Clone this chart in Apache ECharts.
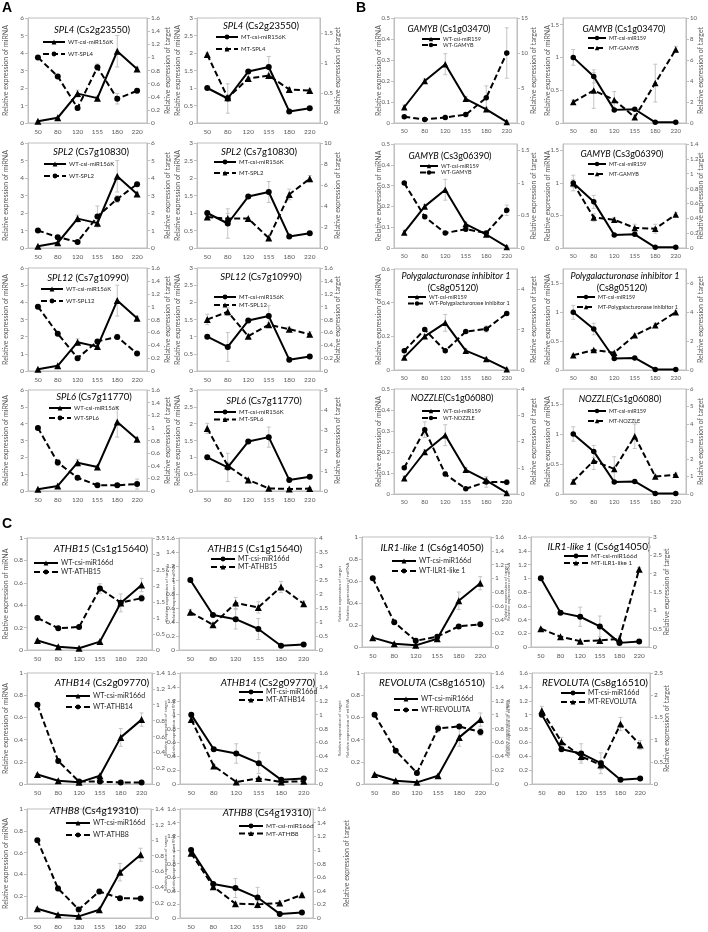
<!DOCTYPE html>
<html>
<head>
<meta charset="utf-8">
<script src="https://cdn.jsdelivr.net/npm/echarts@6/dist/echarts.min.js"></script>
<style>
html, body { margin: 0; padding: 0; background: #fff; }
#chart { width: 708px; height: 932px; }
</style>
</head>
<body>
<div id="chart"></div>
<script>
// days after flowering
const days = ['50', '80', '120', '155', '180', '220'];

// miRNA levels
const wtMiR156 = [0.1, 0.3, 1.68, 1.42, 4.1, 3.08];
const mtMiR156 = [1.0, 0.7, 1.47, 1.6, 0.33, 0.42];
const wtMiR159 = [0.075, 0.2, 0.28, 0.115, 0.065, 0.005];
const mtMiR159 = [1.0, 0.71, 0.2, 0.21, 0.01, 0.01];
const wtMiR166 = [0.085, 0.03, 0.015, 0.075, 0.42, 0.58];
const mtMiR166 = [1.0, 0.5, 0.44, 0.3, 0.06, 0.08];

// target levels
const wtSPL4 = [1.0, 0.71, 0.23, 0.85, 0.37, 0.49];
const mtSPL4 = [1.14, 0.42, 0.74, 0.79, 0.56, 0.54];
const wtSPL2 = [1.0, 0.62, 0.35, 1.8, 2.8, 3.65];
const mtSPL2 = [2.95, 2.8, 2.8, 0.95, 5.1, 6.6];
const wtSPL12 = [1.0, 0.58, 0.2, 0.46, 0.53, 0.27];
const mtSPL12 = [0.8, 0.92, 0.54, 0.72, 0.65, 0.57];
const wtSPL6 = [1.0, 0.45, 0.21, 0.09, 0.09, 0.11];
const mtSPL6 = [3.1, 1.25, 0.55, 0.13, 0.1, 0.12];
const wtGAMYB1 = [0.9, 0.5, 0.8, 1.2, 3.6, 10.0];
const mtGAMYB1 = [2.0, 3.1, 2.2, 0.55, 3.8, 7.0];
const wtGAMYB2 = [1.0, 0.48, 0.23, 0.29, 0.23, 0.58];
const mtGAMYB2 = [0.87, 0.41, 0.38, 0.27, 0.26, 0.45];
const wtPGIP = [0.95, 2.0, 0.95, 1.9, 2.03, 2.8];
const mtPGIP = [1.03, 1.38, 1.2, 2.4, 3.1, 4.0];
const wtNOZZLE = [1.0, 2.45, 0.76, 0.2, 0.46, 0.45];
const mtNOZZLE = [0.72, 1.9, 1.43, 3.3, 1.0, 1.1];
const wtATHB15 = [1.0, 0.68, 0.72, 1.92, 1.48, 1.62];
const mtATHB15 = [1.35, 0.9, 1.68, 1.52, 2.25, 1.65];
const wtILR = [1.0, 0.36, 0.09, 0.15, 0.3, 0.33];
const mtILR = [0.5, 0.28, 0.16, 0.18, 0.22, 2.12];
const wtATHB14 = [1.0, 0.29, 0.03, 0.03, 0.02, 0.02];
const mtATHB14 = [0.93, 0.26, 0.03, 0.08, 0.03, 0.04];
const wtREV = [1.0, 0.48, 0.16, 0.8, 0.83, 0.75];
const mtREV = [1.65, 0.95, 0.62, 0.43, 1.35, 0.88];
const wtATHB8 = [1.0, 0.38, 0.11, 0.34, 0.255, 0.25];
const mtATHB8 = [0.95, 0.46, 0.21, 0.2, 0.22, 0.34];

// error bars (sd)
const errWtMiR156 = [0.02, 0.05, 0.2, 0.1, 0.9, 0.1];
const errMtMiR156 = [0.03, 0.42, 0.05, 0.3, 0.03, 0.05];
const errWtMiR159 = [0.01, 0.01, 0.05, 0.01, 0.01, 0.005];
const errMtMiR159 = [0.12, 0.1, 0.02, 0.02, 0.01, 0.01];
const errWtMiR166 = [0.01, 0.01, 0.01, 0.01, 0.08, 0.06];
const errMtMiR166 = [0.02, 0.02, 0.14, 0.15, 0.02, 0.02];
const errWtSPL4 = [0, 0.02, 0.03, 0.05, 0.08, 0.03];
const errMtSPL4 = [0.03, 0.05, 0.03, 0.03, 0.03, 0.03];
const errWtSPL2 = [0.05, 0.05, 0.05, 0.6, 0.2, 0.1];
const errMtSPL2 = [0.1, 0.5, 0.1, 0.1, 0.5, 0.3];
const errWtSPL12 = [0.02, 0.03, 0.03, 0.03, 0.04, 0.02];
const errMtSPL12 = [0.08, 0.06, 0.03, 0.03, 0.03, 0.04];
const errWtSPL6 = [0.02, 0.05, 0.03, 0.02, 0.02, 0.08];
const errMtSPL6 = [0.25, 0.15, 0.05, 0.03, 0.03, 0.05];
const errWtGAMYB1 = [0.2, 0.2, 0.3, 0.3, 1.7, 3.6];
const errMtGAMYB1 = [0.2, 1.7, 0.8, 0.2, 1.8, 0.3];
const errWtGAMYB2 = [0.02, 0.03, 0.02, 0.03, 0.03, 0.08];
const errMtGAMYB2 = [0.05, 0.05, 0.03, 0.05, 0.06, 0.03];
const errWtPGIP = [0.05, 0.1, 0.05, 0.05, 0.15, 0.1];
const errMtPGIP = [0.05, 0.05, 0.05, 0.1, 0.15, 0.1];
const errWtNOZZLE = [0.05, 0.3, 0.1, 0.05, 0.2, 0.1];
const errMtNOZZLE = [0.1, 0.5, 0.7, 0.7, 0.1, 0.1];
const errWtATHB15 = [0.03, 0.03, 0.03, 0.15, 0.05, 0.1];
const errMtATHB15 = [0.1, 0.05, 0.2, 0.2, 0.2, 0.1];
const errWtILR = [0.02, 0.02, 0.03, 0.03, 0.02, 0.02];
const errMtILR = [0.02, 0.02, 0.02, 0.02, 0.08, 0.05];
const errWtATHB14 = [0.02, 0.02, 0.01, 0.01, 0.01, 0.01];
const errMtATHB14 = [0.03, 0.02, 0.01, 0.02, 0.02, 0.02];
const errWtREV = [0.02, 0.03, 0.03, 0.05, 0.03, 0.05];
const errMtREV = [0.1, 0.1, 0.1, 0.1, 0.15, 0.1];
const errWtATHB8 = [0.02, 0.03, 0.02, 0.03, 0.02, 0.02];
const errMtATHB8 = [0.03, 0.03, 0.02, 0.05, 0.03, 0.02];

const FONT = 'Lato, "Liberation Sans", sans-serif';
const GRAY = '#bfbfbf';
const TXT = '#595959';

const styles = {
	A: { title: 9.5, tick: 6.5, legend: 6, name: 7, icon: 22, sym: 6 },
	B: { title: 9, tick: 6, legend: 5.5, name: 7, icon: 18, sym: 5.5 },
	C: { title: 10, tick: 6.5, legend: 7, name: 7, icon: 24, sym: 6 }
};

// box: [left axis x, right axis x, top y, bottom y]; t: title centre; lg: [x, first row y, row pitch, font]; nm: axis name centres (+ sizes)
const panels = [
	{ st: 'A', mt: 0, gene: 'SPL4', id: ' (Cs2g23550)', mir: 'csi-miR156K', tgt: 'SPL4', a: wtMiR156, ea: errWtMiR156, b: wtSPL4, eb: errWtSPL4, y1: [6, 1], y2: [1.6, 0.2], box: [28, 147, 18, 123], t: [92, 30], lg: [42, 42, 12], nm: [6, 168] },
	{ st: 'A', mt: 1, gene: 'SPL4', id: ' (Cs2g23550)', mir: 'csi-miR156K', tgt: 'SPL4', a: mtMiR156, ea: errMtMiR156, b: mtSPL4, eb: errMtSPL4, y1: [3, 0.5], y2: [1.75, 0.5], box: [197, 320, 18, 123], t: [261, 26], lg: [215, 37, 12], nm: [178, 338] },
	{ st: 'A', mt: 0, gene: 'SPL2', id: ' (Cs7g10830)', mir: 'csi-miR156K', tgt: 'SPL2', a: wtMiR156, ea: errWtMiR156, b: wtSPL2, eb: errWtSPL2, y1: [6, 1], y2: [6, 1], box: [28, 147, 143, 248], t: [91, 152], lg: [43, 164, 12], nm: [6, 168] },
	{ st: 'A', mt: 1, gene: 'SPL2', id: ' (Cs7g10830)', mir: 'csi-miR156K', tgt: 'SPL2', a: mtMiR156, ea: errMtMiR156, b: mtSPL2, eb: errMtSPL2, y1: [3, 0.5], y2: [10, 2], box: [197, 320, 143, 248], t: [259, 152], lg: [213, 162, 11], nm: [178, 338] },
	{ st: 'A', mt: 0, gene: 'SPL12', id: ' (Cs7g10990)', mir: 'csi-miR156K', tgt: 'SPL12', a: wtMiR156, ea: errWtMiR156, b: wtSPL12, eb: errWtSPL12, y1: [6, 1], y2: [1.6, 0.2], box: [28, 147, 268, 371], t: [88, 278], lg: [40, 289, 12], nm: [6, 168] },
	{ st: 'A', mt: 1, gene: 'SPL12', id: ' (Cs7g10990)', mir: 'csi-miR156K', tgt: 'SPL12', a: mtMiR156, ea: errMtMiR156, b: mtSPL12, eb: errMtSPL12, y1: [3, 0.5], y2: [1.6, 0.2], box: [197, 320, 268, 371], t: [261, 277], lg: [213, 297, 8], nm: [178, 338] },
	{ st: 'A', mt: 0, gene: 'SPL6', id: ' (Cs7g11770)', mir: 'csi-miR156K', tgt: 'SPL6', a: wtMiR156, ea: errWtMiR156, b: wtSPL6, eb: errWtSPL6, y1: [6, 1], y2: [1.6, 0.2], box: [28, 147, 390, 491], t: [94, 397], lg: [48, 408, 10], nm: [6, 168] },
	{ st: 'A', mt: 1, gene: 'SPL6', id: ' (Cs7g11770)', mir: 'csi-miR156K', tgt: 'SPL6', a: mtMiR156, ea: errMtMiR156, b: mtSPL6, eb: errMtSPL6, y1: [3, 0.5], y2: [5, 1], box: [197, 320, 390, 491], t: [264, 401], lg: [213, 412, 7.5], nm: [178, 338] },

	{ st: 'B', mt: 0, gene: 'GAMYB', id: ' (Cs1g03470)', mir: 'csi-miR159', tgt: 'GAMYB', a: wtMiR159, ea: errWtMiR159, b: wtGAMYB1, eb: errWtGAMYB1, y1: [0.5, 0.1], y2: [15, 5], box: [394, 517, 18, 123], t: [449, 29], lg: [421, 39, 6], nm: [379, 534] },
	{ st: 'B', mt: 1, gene: 'GAMYB', id: ' (Cs1g03470)', mir: 'csi-miR159', tgt: 'GAMYB', a: mtMiR159, ea: errMtMiR159, b: mtGAMYB1, eb: errMtGAMYB1, y1: [1.6, 0.5], y2: [10, 2], box: [563, 686, 18, 123], t: [624, 29], lg: [587, 38, 10], nm: [548, 701] },
	{ st: 'B', mt: 0, gene: 'GAMYB', id: ' (Cs3g06390)', mir: 'csi-miR159', tgt: 'GAMYB', a: wtMiR159, ea: errWtMiR159, b: wtGAMYB2, eb: errWtGAMYB2, y1: [0.5, 0.1], y2: [1.6, 0.5], box: [394, 517, 144, 248], t: [450, 156], lg: [419, 166, 6.5], nm: [379, 534] },
	{ st: 'B', mt: 1, gene: 'GAMYB', id: ' (Cs3g06390)', mir: 'csi-miR159', tgt: 'GAMYB', a: mtMiR159, ea: errMtMiR159, b: mtGAMYB2, eb: errMtGAMYB2, y1: [1.6, 0.5], y2: [1.4, 0.2], box: [563, 686, 144, 248], t: [622, 154], lg: [587, 164, 10], nm: [548, 701] },
	{ st: 'B', mt: 0, gene: 'Polygalacturonase inhibitor 1', id: '(Cs8g05120)', two: true, mir: 'csi-miR159', tgt: 'Polygalacturonase inhibitor 1', a: wtMiR159, ea: errWtMiR159, b: wtPGIP, eb: errWtPGIP, y1: [0.6, 0.2], y2: [5, 2], box: [394, 517, 269, 370], t: [456, 276, 453, 288], lg: [407, 297, 6.5], nm: [379, 534] },
	{ st: 'B', mt: 1, gene: 'Polygalacturonase inhibitor 1', id: '(Cs8g05120)', two: true, mir: 'csi-miR159', tgt: 'Polygalacturonase inhibitor 1', a: mtMiR159, ea: errMtMiR159, b: mtPGIP, eb: errMtPGIP, y1: [1.75, 0.5], y2: [7, 2], box: [563, 686, 269, 370], t: [625, 276, 622, 288], lg: [576, 297, 10], nm: [548, 701] },
	{ st: 'B', mt: 0, gene: 'NOZZLE', id: '(Cs1g06080)', mir: 'csi-miR159', tgt: 'NOZZLE', a: wtMiR159, ea: errWtMiR159, b: wtNOZZLE, eb: errWtNOZZLE, y1: [0.5, 0.1], y2: [4, 1], box: [394, 517, 389, 494], t: [452, 398], lg: [421, 411, 7], nm: [379, 534] },
	{ st: 'B', mt: 1, gene: 'NOZZLE', id: '(Cs1g06080)', mir: 'csi-miR159', tgt: 'NOZZLE', a: mtMiR159, ea: errMtMiR159, b: mtNOZZLE, eb: errMtNOZZLE, y1: [1.75, 0.5], y2: [6, 1], box: [563, 686, 389, 494], t: [620, 399], lg: [587, 411, 10], nm: [548, 701] },

	{ st: 'C', mt: 0, gene: 'ATHB15', id: ' (Cs1g15640)', mir: 'csi-miR166d', tgt: 'ATHB15', a: wtMiR166, ea: errWtMiR166, b: wtATHB15, eb: errWtATHB15, y1: [1, 0.2], y2: [3.5, 0.5], box: [27, 152, 538, 650], t: [101, 549], lg: [33, 563, 9], nm: [6, 167, 7, 4.5] },
	{ st: 'C', mt: 1, gene: 'ATHB15', id: ' (Cs1g15640)', mir: 'csi-miR166d', tgt: 'ATHB15', a: mtMiR166, ea: errMtMiR166, b: mtATHB15, eb: errMtATHB15, y1: [1.6, 0.2], y2: [4, 0.5], box: [179, 315, 538, 650], t: [255, 549], lg: [210, 559, 8], nm: [174, 340, 4.5, 4.5] },
	{ st: 'C', mt: 0, gene: 'ILR1-like 1', id: ' (Cs6g14050)', mir: 'csi-miR166d', tgt: 'ILR1-like 1', a: wtMiR166, ea: errWtMiR166, b: wtILR, eb: errWtILR, y1: [1, 0.2], y2: [1.6, 0.2], box: [362, 491, 537, 647], t: [432, 548], lg: [391, 561, 10], nm: [348, 506, 4.5, 4.5] },
	{ st: 'C', mt: 1, gene: 'ILR1-like 1', id: ' (Cs6g14050)', mir: 'csi-miR166d', tgt: 'ILR1-like 1', a: mtMiR166, ea: errMtMiR166, b: mtILR, eb: errMtILR, y1: [1.6, 0.2], y2: [3, 0.5], box: [531, 649, 537, 647], t: [599, 547], lg: [563, 556, 7, 6.3], nm: [509, 667, 4.5, 7] },
	{ st: 'C', mt: 0, gene: 'ATHB14', id: ' (Cs2g09770)', mir: 'csi-miR166d', tgt: 'ATHB14', a: wtMiR166, ea: errWtMiR166, b: wtATHB14, eb: errWtATHB14, y1: [1, 0.2], y2: [1.4, 0.2], box: [27, 152, 673, 784], t: [102, 683], lg: [65, 696, 11], nm: [6, 166, 7, 4.5] },
	{ st: 'C', mt: 1, gene: 'ATHB14', id: ' (Cs2g09770)', mir: 'csi-miR166d', tgt: 'ATHB14', a: mtMiR166, ea: errMtMiR166, b: mtATHB14, eb: errMtATHB14, y1: [1.6, 0.2], y2: [1.6, 0.2], box: [180, 315, 673, 784], t: [268, 683], lg: [238, 692, 8], nm: [174, 340, 4.5, 4.5] },
	{ st: 'C', mt: 0, gene: 'REVOLUTA', id: ' (Cs8g16510)', mir: 'csi-miR166d', tgt: 'REVOLUTA', a: wtMiR166, ea: errWtMiR166, b: wtREV, eb: errWtREV, y1: [1, 0.2], y2: [1.6, 0.2], box: [364, 491, 673, 784], t: [432, 683], lg: [393, 699, 11], nm: [348, 507, 4.5, 4.5] },
	{ st: 'C', mt: 1, gene: 'REVOLUTA', id: ' (Cs8g16510)', mir: 'csi-miR166d', tgt: 'REVOLUTA', a: mtMiR166, ea: errMtMiR166, b: mtREV, eb: errMtREV, y1: [1.6, 0.2], y2: [2.5, 0.5], box: [532, 650, 673, 784], t: [595, 683], lg: [560, 693, 9], nm: [509, 667, 4.5, 7] },
	{ st: 'C', mt: 0, gene: 'ATHB8', id: ' (Cs4g19310)', mir: 'csi-miR166d', tgt: 'ATHB8', a: wtMiR166, ea: errWtMiR166, b: wtATHB8, eb: errWtATHB8, y1: [1, 0.2], y2: [1.4, 0.2], box: [27, 151, 809, 918], t: [94, 811], lg: [65, 823, 12], nm: [6, 166, 7, 4.5] },
	{ st: 'C', mt: 1, gene: 'ATHB8', id: ' (Cs4g19310)', mir: 'csi-miR166d', tgt: 'ATHB8', a: mtMiR166, ea: errMtMiR166, b: mtATHB8, eb: errMtATHB8, y1: [1.6, 0.2], y2: [1.6, 0.2], box: [180, 313, 809, 918], t: [267, 813], lg: [238, 826, 7.5, 6.5], nm: [174, 347, 4.5, 7] }
];

function isMultiple(max, step) {
	const r = max / step;
	return Math.abs(Math.round(r) - r) < 1e-6;
}

function makeY(gi, range, pos, axisX, nameX, nameSize, s) {
	const [max, step] = range;
	return {
		type: 'value', gridIndex: gi, position: pos, min: 0, max: max, interval: step,
		name: pos === 'left' ? 'Relative expression of miRNA' : 'Relative expression of target',
		nameLocation: 'middle', nameRotate: 90,
		nameGap: Math.abs(axisX - nameX) - nameSize / 2,
		nameMoveOverlap: false,
		nameTextStyle: { fontSize: nameSize, lineHeight: nameSize, color: TXT, fontFamily: FONT },
		axisLine: { show: true, lineStyle: { color: GRAY, width: 1 } },
		axisTick: { show: true, length: 3, lineStyle: { color: GRAY } },
		splitLine: { show: false },
		axisLabel: {
			fontSize: s.tick, color: TXT, fontFamily: FONT, margin: 4,
			showMaxLabel: isMultiple(max, step) ? undefined : false
		}
	};
}

// grey error bars
function errBar(params, api) {
	const k = api.value(0), v = api.value(1), e = api.value(2);
	if (!e) return null;
	const hi = api.coord([k, v + e]);
	const lo = api.coord([k, v - e]);
	const style = { stroke: '#c4c4c4', lineWidth: 1 };
	return {
		type: 'group',
		children: [
			{ type: 'line', shape: { x1: hi[0], y1: hi[1], x2: lo[0], y2: lo[1] }, style: style },
			{ type: 'line', shape: { x1: hi[0] - 2, y1: hi[1], x2: hi[0] + 2, y2: hi[1] }, style: style },
			{ type: 'line', shape: { x1: lo[0] - 2, y1: lo[1], x2: lo[0] + 2, y2: lo[1] }, style: style }
		]
	};
}

const grid = [], xAxis = [], yAxis = [], series = [], legend = [], graphic = [];

panels.forEach((p, i) => {
	const s = styles[p.st];
	const [x0, x1, y0, y1] = p.box;
	const pre = p.mt ? 'MT-' : 'WT-';
	const nameA = pre + p.mir;
	const nameB = pre + p.tgt;

	grid.push({ left: x0, top: y0, width: x1 - x0, height: y1 - y0, show: true, borderColor: GRAY, borderWidth: 1, backgroundColor: 'transparent' });
	xAxis.push({
		type: 'category', gridIndex: i, data: days, boundaryGap: true,
		axisLine: { lineStyle: { color: GRAY } },
		axisTick: { length: 3, lineStyle: { color: GRAY } },
		axisLabel: { interval: 0, fontSize: s.tick, color: TXT, fontFamily: FONT, margin: 5 }
	});
	yAxis.push(makeY(i, p.y1, 'left', x0, p.nm[0], p.nm[2] || s.name, s));
	yAxis.push(makeY(i, p.y2, 'right', x1, p.nm[1], p.nm[3] || s.name, s));

	series.push({
		type: 'custom', xAxisIndex: i, yAxisIndex: 2 * i, renderItem: errBar, silent: true, z: 1,
		encode: { x: 0, y: 1 }, data: p.a.map((v, k) => [k, v, p.ea[k]])
	});
	series.push({
		type: 'custom', xAxisIndex: i, yAxisIndex: 2 * i + 1, renderItem: errBar, silent: true, z: 1,
		encode: { x: 0, y: 1 }, data: p.b.map((v, k) => [k, v, p.eb[k]])
	});
	series.push({
		type: 'line', name: nameA, xAxisIndex: i, yAxisIndex: 2 * i, data: p.a, z: 3,
		symbol: p.mt ? 'circle' : 'triangle', symbolSize: p.mt ? s.sym : s.sym + 1,
		lineStyle: { color: '#000', width: 2 }, itemStyle: { color: '#000' }, silent: true
	});
	series.push({
		type: 'line', name: nameB, xAxisIndex: i, yAxisIndex: 2 * i + 1, data: p.b, z: 3,
		symbol: p.mt ? 'triangle' : 'circle', symbolSize: p.mt ? s.sym + 1 : s.sym,
		lineStyle: { color: '#000', width: 2, type: [6, 3] }, itemStyle: { color: '#000' }, silent: true
	});

	const lf = p.lg[3] || s.legend;
	const rowH = Math.max(s.sym, lf + 1);
	legend.push({
		orient: 'vertical', left: p.lg[0], top: p.lg[1] - rowH / 2, padding: 0,
		itemGap: p.lg[2] - rowH, itemWidth: s.icon, itemHeight: s.sym,
		selectedMode: false, data: [nameA, nameB],
		textStyle: { fontSize: lf, lineHeight: lf + 1, color: '#262626', fontFamily: FONT, padding: [0, 0, 0, -2] }
	});

	const rich = {
		i: { fontStyle: 'italic', fontSize: s.title, fontFamily: FONT, fill: '#000' },
		n: { fontSize: s.title, fontFamily: FONT, fill: '#000' }
	};
	if (p.two) {
		graphic.push({ type: 'text', x: p.t[0], y: p.t[1], style: { text: '{i|' + p.gene + '}', rich: rich, align: 'center', verticalAlign: 'middle', textAlign: 'center', textVerticalAlign: 'middle' } });
		graphic.push({ type: 'text', x: p.t[2], y: p.t[3], style: { text: '{n|' + p.id + '}', rich: rich, align: 'center', verticalAlign: 'middle', textAlign: 'center', textVerticalAlign: 'middle' } });
	} else {
		graphic.push({ type: 'text', x: p.t[0], y: p.t[1], style: { text: '{i|' + p.gene + '}{n|' + p.id + '}', rich: rich, align: 'center', verticalAlign: 'middle', textAlign: 'center', textVerticalAlign: 'middle' } });
	}
});

// panel letters
[['A', 2, 1], ['B', 356, 1], ['C', 2, 517]].forEach(l => {
	graphic.push({ type: 'text', x: l[1], y: l[2], style: { text: l[0], fill: '#000', font: 'bold 14px "Liberation Sans", Arial, sans-serif' } });
});

const myChart = echarts.init(document.getElementById('chart'));
myChart.setOption({
	animation: false,
	backgroundColor: '#fff',
	grid: grid,
	xAxis: xAxis,
	yAxis: yAxis,
	legend: legend,
	series: series,
	graphic: graphic
});
</script>
</body>
</html>
